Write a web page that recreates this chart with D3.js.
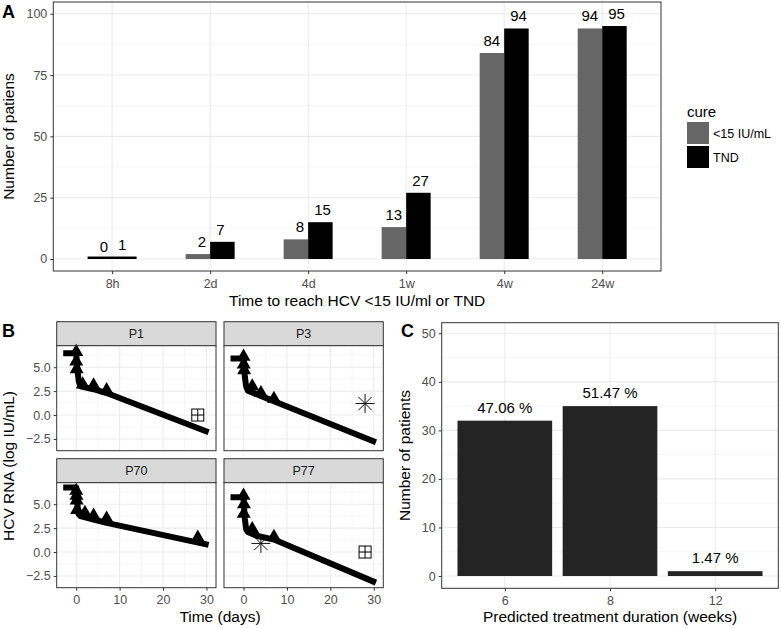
<!DOCTYPE html>
<html><head><meta charset="utf-8">
<script src="https://cdn.jsdelivr.net/npm/d3@7"></script>
<style>
body{margin:0;background:#fff}
svg{display:block}
text{font-family:"Liberation Sans",Arial,Helvetica,sans-serif}
</style>
</head><body>
<svg id="c" width="781" height="628"></svg>
<script>
// ---------- Panel A data ----------
const timeCats = ["8h","2d","4d","1w","4w","24w"];
const below15 = [0,2,8,13,84,94];
const tndCount = [1,7,15,27,94,95];
const cureLevels = ["<15 IU/mL","TND"];
const aYTicks = [0,25,50,75,100];
const aYMinor = [12.5,37.5,62.5,87.5];

// ---------- Panel B data (day, log10 IU/mL) ----------
const patients = ["P1","P3","P70","P77"];
const fitP1  = [[-3,6.45],[0,6.45],[0.1,5.7],[0.3,4.6],[0.6,3.5],[1,3.0],[4,2.7],[7,2.3],[30.5,-1.8]];
const fitP3  = [[-3,5.9],[0,5.9],[0.1,5.2],[0.3,4.0],[0.6,3.0],[1,2.55],[4,2.0],[7,1.45],[30.5,-2.85]];
const fitP70 = [[-3,6.75],[0,6.75],[0.1,5.9],[0.3,4.8],[0.5,4.0],[1,3.75],[4,3.4],[7,3.05],[30.5,0.75]];
const fitP77 = [[-3,5.72],[0,5.72],[0.1,4.8],[0.3,3.5],[0.6,2.4],[1,2.1],[3,1.7],[7,1.3],[30.5,-3.2]];
const obsP1  = [[0,6.6],[0,5.6],[0.1,4.8],[1.5,3.2],[4,3.1],[7,2.6]];
const obsP3  = [[0,6.1],[0.05,5.3],[0.15,4.7],[2,3.0],[4,2.3],[7,1.7]];
const obsP70 = [[0,6.4],[0.05,5.9],[0.1,5.4],[0.2,4.4],[2,4.1],[4,3.8],[7,3.5],[28,1.5]];
const obsP77 = [[0,5.9],[0.1,5.0],[0.05,4.0],[2,2.4],[7,1.6]];
const tndMarks  = [["P1",28,0],["P77",28,0]];
const lloqMarks = [["P3",28,1.2],["P77",4,0.9]];
const bXTicks = [0,10,20,30];
const bXMinor = [5,15,25];
const bYTicks = [-2.5,0,2.5,5];
const bYMinor = [-1.25,1.25,3.75,6.25];

// ---------- Panel C data ----------
const durCats = ["6","8","12"];
const durCounts = [32,35,1];
const durPct = ["47.06 %","51.47 %","1.47 %"];
const cYTicks = [0,10,20,30,40,50];
const cYMinor = [5,15,25,35,45];

const svg = d3.select("#c");
const TICK = "#333333", TLAB = "#4d4d4d", GRID = "#ebebeb";
const TS = 12.5, TITLE = "15.5px", LAB = "15px";

function hGrid(g, scale, vals, x0, x1, w){
  g.selectAll(null).data(vals).enter().append("line")
    .attr("x1",x0).attr("x2",x1).attr("y1",d=>scale(d)).attr("y2",d=>scale(d))
    .attr("stroke",GRID).attr("stroke-width",w);
}
function vGrid(g, xs, y0, y1, w){
  g.selectAll(null).data(xs).enter().append("line")
    .attr("x1",d=>d).attr("x2",d=>d).attr("y1",y0).attr("y2",y1)
    .attr("stroke",GRID).attr("stroke-width",w);
}
function styleAxis(ax){
  ax.select(".domain").remove();
  ax.selectAll(".tick line").attr("stroke",TICK);
  ax.selectAll(".tick text").attr("fill",TLAB).style("font-size",TS+"px");
}

// =============== PANEL A ===============
const aL=53.3, aR=661, aT=2, aB=271;
const aX = d3.scalePoint().domain(timeCats).range([aL,aR]).padding(0.6);
const aY = d3.scaleLinear().domain([-4.9,104.8]).range([aB,aT]);
const aStep = aX.step();
const gA = svg.append("g");
gA.append("rect").attr("x",aL).attr("y",aT).attr("width",aR-aL).attr("height",aB-aT).attr("fill","#fff");
hGrid(gA,aY,aYMinor,aL,aR,0.5);
hGrid(gA,aY,aYTicks,aL,aR,1.1);
vGrid(gA,timeCats.map(d=>aX(d)),aT,aB,1.1);

const aBars = [];
timeCats.forEach((c,i)=>{
  const vals = [below15[i], tndCount[i]];
  const present = [0,1].filter(k=>vals[k]>0);
  const w = 0.5*aStep/present.length;
  present.forEach((k,j)=>{
    aBars.push({c, k, v:vals[k], x: aX(c)-0.25*aStep + j*w, w});
  });
});
gA.selectAll(".bar").data(aBars).enter().append("rect")
  .attr("x",d=>d.x).attr("width",d=>d.w)
  .attr("y",d=>aY(d.v)).attr("height",d=>aY(0)-aY(d.v))
  .attr("fill",d=>d.k===0?"#666666":"#000000");

timeCats.forEach((c,i)=>{
  gA.append("text").attr("x",aX(c)-4).attr("y",aY(below15[i])-7)
    .attr("text-anchor","end").style("font-size",LAB).attr("fill","#000").text(below15[i]);
  gA.append("text").attr("x",aX(c)+6).attr("y",aY(tndCount[i])-7)
    .attr("text-anchor","start").style("font-size",LAB).attr("fill","#000").text(tndCount[i]);
});
gA.append("rect").attr("x",aL).attr("y",aT).attr("width",aR-aL).attr("height",aB-aT)
  .attr("fill","none").attr("stroke",TICK).attr("stroke-width",1);
const aYax = gA.append("g").attr("transform",`translate(${aL},0)`)
  .call(d3.axisLeft(aY).tickValues(aYTicks).tickSize(3).tickPadding(3));
styleAxis(aYax);
const aXax = gA.append("g").attr("transform",`translate(0,${aB})`)
  .call(d3.axisBottom(aX).tickSize(3).tickPadding(5));
styleAxis(aXax);
gA.append("text").attr("x",(aL+aR)/2).attr("y",306).attr("text-anchor","middle")
  .style("font-size",TITLE).text("Time to reach HCV <15 IU/ml or TND");
gA.append("text").attr("transform",`translate(14,${(aT+aB)/2}) rotate(-90)`).attr("text-anchor","middle")
  .style("font-size",TITLE).text("Number of patiens");
gA.append("text").attr("x",2).attr("y",18).style("font-size","18px").style("font-weight","bold").text("A");

// legend
const lg = svg.append("g");
lg.append("text").attr("x",687).attr("y",117).style("font-size",LAB).text("cure");
cureLevels.forEach((lab,i)=>{
  lg.append("rect").attr("x",687).attr("y",122+i*24).attr("width",22).attr("height",22)
    .attr("fill",i===0?"#666666":"#000000");
  lg.append("text").attr("x",713).attr("y",137.5+i*24).style("font-size",TS+"px").attr("fill","#000").text(lab);
});

// =============== PANEL B ===============
const fits = {P1:fitP1,P3:fitP3,P70:fitP70,P77:fitP77};
const obs = {P1:obsP1,P3:obsP3,P70:obsP70,P77:obsP77};
const colX = [56.7,224], rowStrip = [321.7,458.7];
const pW = 159.3, stripH = 24, pH = 105;
const bX = d3.scaleLinear().domain([-4.5,32.2]).range([0,pW]);
const bY = d3.scaleLinear().domain([-3.73,7.25]).range([pH,0]);
const gB = svg.append("g");
patients.forEach((p,idx)=>{
  const col = idx%2, row = Math.floor(idx/2);
  const x0 = colX[col], sy = rowStrip[row], y0 = sy+stripH;
  const g = gB.append("g");
  g.append("rect").attr("x",x0).attr("y",sy).attr("width",pW).attr("height",stripH)
    .attr("fill","#d9d9d9").attr("stroke",TICK).attr("stroke-width",1);
  g.append("text").attr("x",x0+pW/2).attr("y",sy+stripH/2+4.5).attr("text-anchor","middle")
    .style("font-size",TS+"px").attr("fill","#1a1a1a").text(p);
  const pg = g.append("g").attr("transform",`translate(${x0},${y0})`);
  pg.append("rect").attr("width",pW).attr("height",pH).attr("fill","#fff");
  hGrid(pg,bY,bYMinor,0,pW,0.5);
  vGrid(pg,bXMinor.map(bX),0,pH,0.5);
  hGrid(pg,bY,bYTicks,0,pW,1.1);
  vGrid(pg,bXTicks.map(bX),0,pH,1.1);
  pg.append("path").datum(fits[p])
    .attr("d",d3.line().x(d=>bX(d[0])).y(d=>bY(d[1])))
    .attr("fill","none").attr("stroke","#000").attr("stroke-width",6)
    .attr("stroke-linejoin","round").attr("stroke-linecap","butt");
  pg.selectAll(".tri").data(obs[p]).enter().append("path")
    .attr("transform",d=>`translate(${bX(d[0])},${bY(d[1])})`)
    .attr("d",d3.symbol().type(d3.symbolTriangle).size(85)).attr("fill","#000");
  tndMarks.filter(m=>m[0]===p).forEach(m=>{
    const cx=bX(m[1]), cy=bY(m[2]), s=6;
    pg.append("rect").attr("x",cx-s).attr("y",cy-s).attr("width",2*s).attr("height",2*s)
      .attr("fill","none").attr("stroke","#000").attr("stroke-width",1);
    pg.append("path").attr("d",`M${cx-s},${cy}H${cx+s}M${cx},${cy-s}V${cy+s}`)
      .attr("stroke","#000").attr("stroke-width",1);
  });
  lloqMarks.filter(m=>m[0]===p).forEach(m=>{
    const cx=bX(m[1]), cy=bY(m[2]), r=9.5, q=r*0.7071;
    pg.append("path").attr("d",`M${cx-r},${cy}H${cx+r}M${cx},${cy-r}V${cy+r}M${cx-q},${cy-q}L${cx+q},${cy+q}M${cx-q},${cy+q}L${cx+q},${cy-q}`)
      .attr("stroke","#111").attr("stroke-width",1);
  });
  pg.append("rect").attr("width",pW).attr("height",pH).attr("fill","none")
    .attr("stroke",TICK).attr("stroke-width",1);
  if(col===0){
    const ax = pg.append("g").call(d3.axisLeft(bY).tickValues(bYTicks).tickSize(3).tickPadding(3)
      .tickFormat(d=>d3.format(".1f")(d).replace("-","\u2212")));
    styleAxis(ax);
  }
  if(row===1){
    const ax = pg.append("g").attr("transform",`translate(0,${pH})`)
      .call(d3.axisBottom(bX).tickValues(bXTicks).tickSize(3).tickPadding(4.5));
    styleAxis(ax);
  }
});
gB.append("text").attr("x",(colX[0]+colX[1]+pW)/2).attr("y",622).attr("text-anchor","middle")
  .style("font-size",TITLE).text("Time (days)");
gB.append("text").attr("transform",`translate(14,466) rotate(-90)`).attr("text-anchor","middle")
  .style("font-size",TITLE).text("HCV RNA (log IU/mL)");
gB.append("text").attr("x",2).attr("y",337).style("font-size","18px").style("font-weight","bold").text("B");

// =============== PANEL C ===============
const cL=441.7, cR=778.3, cT=322.7, cB=588.3;
const cX = d3.scalePoint().domain(durCats).range([cL,cR]).padding(0.6);
const cY = d3.scaleLinear().domain([-2.53,52.18]).range([cB,cT]);
const cStep = cX.step();
const gC = svg.append("g");
gC.append("rect").attr("x",cL).attr("y",cT).attr("width",cR-cL).attr("height",cB-cT).attr("fill","#fff");
hGrid(gC,cY,cYMinor,cL,cR,0.5);
hGrid(gC,cY,cYTicks,cL,cR,1.1);
vGrid(gC,durCats.map(d=>cX(d)),cT,cB,1.1);
gC.selectAll(".cbar").data(durCats).enter().append("rect")
  .attr("x",d=>cX(d)-0.45*cStep).attr("width",0.9*cStep)
  .attr("y",(d,i)=>cY(durCounts[i])).attr("height",(d,i)=>cY(0)-cY(durCounts[i]))
  .attr("fill","#242424");
gC.selectAll(".clab").data(durCats).enter().append("text")
  .attr("x",d=>cX(d)).attr("y",(d,i)=>cY(durCounts[i])-8).attr("text-anchor","middle")
  .style("font-size",LAB).attr("fill","#000").text((d,i)=>durPct[i]);
gC.append("rect").attr("x",cL).attr("y",cT).attr("width",cR-cL).attr("height",cB-cT)
  .attr("fill","none").attr("stroke",TICK).attr("stroke-width",1);
const cYax = gC.append("g").attr("transform",`translate(${cL},0)`)
  .call(d3.axisLeft(cY).tickValues(cYTicks).tickSize(3).tickPadding(3));
styleAxis(cYax);
const cXax = gC.append("g").attr("transform",`translate(0,${cB})`)
  .call(d3.axisBottom(cX).tickSize(3).tickPadding(4.5));
styleAxis(cXax);
gC.append("text").attr("x",(cL+cR)/2).attr("y",622).attr("text-anchor","middle")
  .style("font-size",TITLE).text("Predicted treatment duration (weeks)");
gC.append("text").attr("transform",`translate(410,${(cT+cB)/2}) rotate(-90)`).attr("text-anchor","middle")
  .style("font-size",TITLE).text("Number of patients");
gC.append("text").attr("x",401).attr("y",337).style("font-size","18px").style("font-weight","bold").text("C");
</script>
</body></html>
